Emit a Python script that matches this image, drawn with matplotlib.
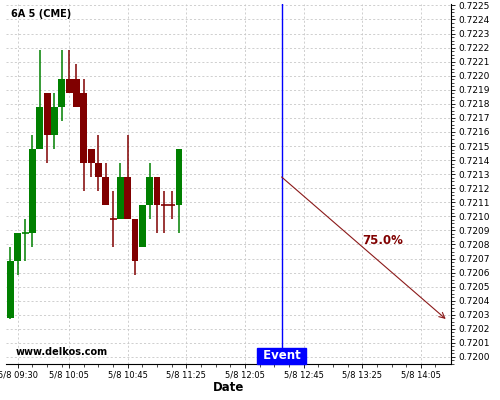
import numpy as np
import matplotlib
matplotlib.use("Agg")
import matplotlib.pyplot as plt
from matplotlib.ticker import FixedLocator, AutoMinorLocator

# 5 minute bars, 6A (CME) on 5/8
times = ["09:25", "09:30", "09:35", "09:40", "09:45", "09:50", "09:55", "10:00",
         "10:05", "10:10", "10:15", "10:20", "10:25", "10:30", "10:35", "10:40",
         "10:45", "10:50", "10:55", "11:00", "11:05", "11:10", "11:15", "11:20"]
opens = [0.72028, 0.72068, 0.72088, 0.72088, 0.72148, 0.72188, 0.72158, 0.72178,
         0.72198, 0.72198, 0.72188, 0.72148, 0.72138, 0.72128, 0.72098, 0.72098,
         0.72128, 0.72098, 0.72078, 0.72108, 0.72128, 0.72108, 0.72108, 0.72108]
highs = [0.72078, 0.72088, 0.72098, 0.72158, 0.72218, 0.72188, 0.72188, 0.72218,
         0.72218, 0.72208, 0.72198, 0.72148, 0.72158, 0.72138, 0.72118, 0.72138,
         0.72158, 0.72098, 0.72108, 0.72138, 0.72128, 0.72118, 0.72118, 0.72148]
lows = [0.72027, 0.72058, 0.72068, 0.72078, 0.72148, 0.72138, 0.72148, 0.72168,
        0.72188, 0.72178, 0.72118, 0.72128, 0.72118, 0.72108, 0.72078, 0.72098,
        0.72098, 0.72058, 0.72078, 0.72098, 0.72088, 0.72088, 0.72098, 0.72088]
closes = [0.72068, 0.72088, 0.72088, 0.72148, 0.72178, 0.72158, 0.72178, 0.72198,
          0.72188, 0.72178, 0.72138, 0.72138, 0.72128, 0.72108, 0.72098, 0.72128,
          0.72098, 0.72068, 0.72108, 0.72128, 0.72108, 0.72108, 0.72108, 0.72148]

event_time = "12:30"
arrow_start = ("12:30", 0.72128)
arrow_end = ("14:22", 0.72027)
arrow_label = "75.0%"
label_pos = ("13:39", 0.72083)

major_ticks = ["09:30", "10:05", "10:45", "11:25", "12:05", "12:45", "13:25", "14:05"]

GREEN = "#008000"
RED = "#800000"


def tmin(s):
    h, m = s.split(":")
    return int(h) * 60 + int(m)


fig = plt.figure(figsize=(5, 4), dpi=100)
ax = fig.add_axes([0.011, 0.09, 0.891, 0.9])

x = np.array([tmin(t) for t in times])
w = 4.7
prev = GREEN
for xi, o, h, l, c in zip(x, opens, highs, lows, closes):
    if c > o:
        col = GREEN
    elif c < o:
        col = RED
    else:
        col = prev  # doji keeps colour of previous bar
    prev = col
    ax.vlines(xi, l, h, color=col, lw=1.1, zorder=3)
    if c == o:
        ax.hlines(o, xi - w / 2, xi + w / 2, color=col, lw=1.2, zorder=4)
    else:
        ax.bar(xi, abs(c - o), bottom=min(o, c), width=w, color=col, zorder=4, lw=0)

ylo, yhi = 0.71995, 0.72251
ax.set_ylim(ylo, yhi)
ax.set_xlim(561.6, 865.6)

ex = tmin(event_time)
ax.axvline(ex, color="#0000ff", lw=1.0, zorder=5)
ax.text(ex, ylo + 0.000012, " Event ", ha="center", va="bottom", color="white",
        fontsize=8.5, fontweight="bold", zorder=6,
        bbox=dict(boxstyle="square,pad=0.15", fc="#0000ff", ec="#0000ff"))

ax.annotate("", xy=(tmin(arrow_end[0]), arrow_end[1]),
            xytext=(tmin(arrow_start[0]), arrow_start[1]),
            arrowprops=dict(arrowstyle="->", color="#8b1a1a", lw=0.8,
                            shrinkA=0, shrinkB=0), zorder=6)
ax.text(tmin(label_pos[0]), label_pos[1], arrow_label, color=RED,
        fontsize=8.5, fontweight="bold", ha="center", va="center")

# axes styling
ax.spines["left"].set_visible(False)
ax.spines["top"].set_visible(False)
ax.yaxis.tick_right()
yt = np.round(np.arange(0.7200, 0.72251, 0.0001), 4)
ax.set_yticks(yt)
ax.set_yticklabels(["%.4f" % v for v in yt], fontsize=6.5)
ax.yaxis.set_minor_locator(AutoMinorLocator(4))

mt = [tmin(t) for t in major_ticks]
ax.set_xticks(mt)
ax.set_xticklabels(["5/8 " + t for t in major_ticks], fontsize=6)
minors = [m + k for m in mt for k in (10, 20, 30) if m + k < 865]
ax.xaxis.set_minor_locator(FixedLocator(minors))
ax.tick_params(which="major", length=3, width=0.6, pad=2)
ax.tick_params(which="minor", length=2, width=0.5)

ax.grid(True, which="major", color="#c8c8c8", linestyle=(0, (2.5, 2.5)), lw=0.6)
ax.set_axisbelow(True)

ax.set_xlabel("Date", fontsize=8.5, fontweight="bold", labelpad=1)
ax.text(0.012, 0.985, "6A 5 (CME)", transform=ax.transAxes, fontsize=7,
        fontweight="bold", va="top", ha="left")
ax.text(0.022, 0.02, "www.delkos.com", transform=ax.transAxes, fontsize=7,
        fontweight="bold", va="bottom", ha="left")

fig.savefig("out.png", dpi=100)
